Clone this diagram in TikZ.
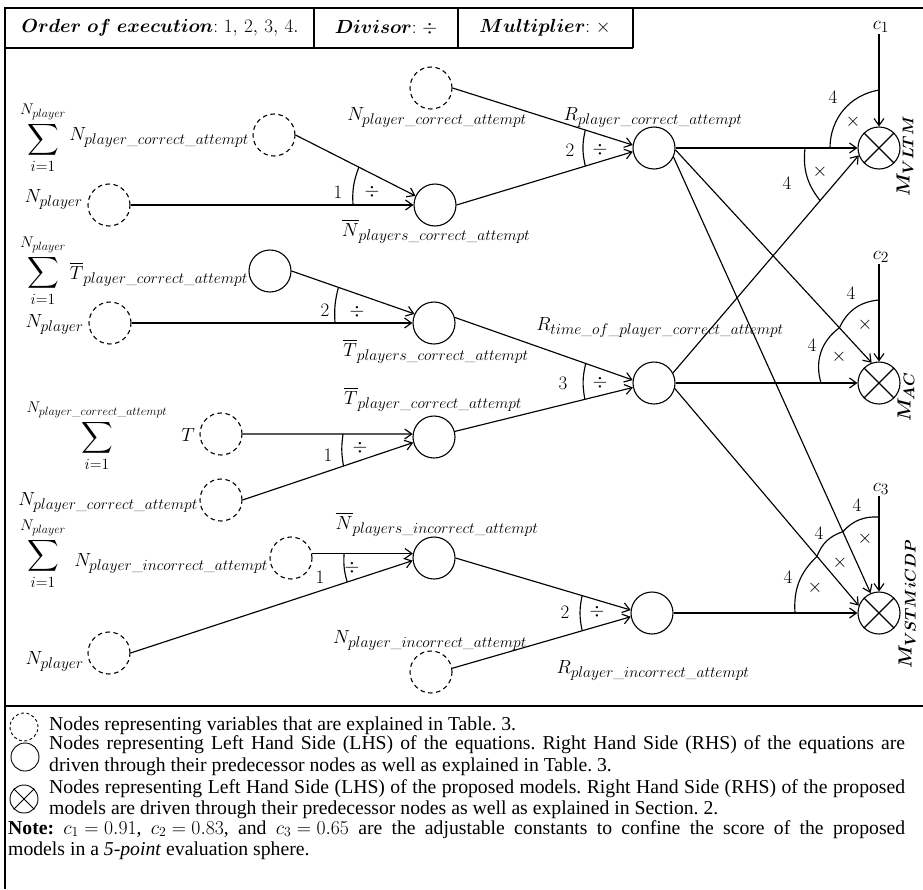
\RequirePackage{fix-cm}
\documentclass[tikz,border=0pt]{standalone}
\usepackage{fontspec}
\usepackage{amsmath,amssymb}
\usetikzlibrary{arrows.meta,intersections,calc}
\newfontfamily\legendfont{Liberation Serif}
\DeclareMathSizes{19}{19}{15.5}{12}
\DeclareMathSizes{22}{22}{15.5}{12}
\frenchspacing
\newcommand\usc{\text{\_}}
\newcommand\Pca{player\usc correct\usc attempt}
\newcommand\Pia{player\usc incorrect\usc attempt}
\newcommand\dsize{\fontsize{19}{22}\selectfont}
\newcommand\ssize{\fontsize{22}{24}\selectfont}
\newcommand\lsize{\fontsize{19.7}{22}\selectfont}
\newcommand\myarc[6]{%
  \path[name path=tmpa] (#1) circle[radius=#3];
  \path[name path=tmpb] (#1) circle[radius=#5];
  \path[name intersections={of=tmpa and #2, by={ia}}];
  \path[name intersections={of=tmpb and #4, by={ib}}];
  \draw[arcline] (ia) to[bend right=#6] (ib);
}
\begin{document}
\begin{tikzpicture}[x=1pt,y=1pt,
  var/.style={circle,draw,dash pattern=on 4.5pt off 3.5pt,minimum size=42pt,inner sep=0pt,line width=1.1pt},
  eqn/.style={circle,draw,minimum size=42pt,inner sep=0pt,line width=1.1pt},
  model/.style={circle,draw,minimum size=42pt,inner sep=0pt,line width=1.1pt},
  conn/.style={line width=1.15pt,-{Straight Barb[length=7pt,width=10pt]}},
  arcline/.style={line width=1.15pt},
  lbl/.style={font=\dsize,inner sep=1pt},
  sumlbl/.style={font=\ssize,inner sep=1pt},
  frameline/.style={line width=1.6pt},
  legtxt/.style={font=\legendfont\lsize,inner sep=0pt,anchor=base west},
]
\fill[white] (0,0) rectangle (923,-889);
\useasboundingbox (0,0) rectangle (923,-889);

% frame and header
\draw[frameline] (923,-8) -- (5,-8) -- (5,-889);
\draw[frameline] (5,-48) -- (633,-48);
\draw[frameline] (314,-8) -- (314,-48);
\draw[frameline] (458,-8) -- (458,-48);
\draw[frameline] (633,-8) -- (633,-48);
\draw[frameline] (5,-706) -- (923,-706);
\node[lbl] (h1) at (160,-28) {$\boldsymbol{Order\ of\ execution}{:}\ 1,\,2,\,3,\,4.$};
\node[lbl] (h2) at (386,-28) {$\boldsymbol{Divisor}{:}\ \div$};
\node[lbl] (h3) at (545,-28) {$\boldsymbol{Multiplier}{:}\ \times$};

% circles
\node[var] (D1) at (274,-135) {};
\node[var] (D2) at (109,-205) {};
\node[var] (D3) at (431,-88) {};
\node[eqn] (A1) at (435,-205) {};
\node[eqn] (B1) at (654,-148) {};
\node[model] (M1) at (879,-148) {};
\node[eqn] (C1) at (270,-271) {};
\node[var] (D4) at (110,-323) {};
\node[eqn] (A2) at (434,-323) {};
\node[var] (D5) at (221,-434) {};
\node[eqn] (A3) at (434,-437) {};
\node[var] (D6) at (221,-500) {};
\node[eqn] (B2) at (654,-383) {};
\node[model] (M2) at (879,-383) {};
\node[var] (D7) at (291,-558) {};
\node[eqn] (A4) at (434,-558) {};
\node[var] (D8) at (109,-653) {};
\node[var] (D9) at (431,-672) {};
\node[eqn] (B3) at (652,-613) {};
\node[model] (M3) at (879,-613) {};
\foreach \m in {M1,M2,M3} \draw[line width=1.1pt] (\m.45) -- (\m.225) (\m.135) -- (\m.315);

% constants
\node[lbl] (c1) at (881,-27) {$c_1$};
\node[lbl] (c2) at (881,-257) {$c_2$};
\node[lbl] (c3) at (881,-489) {$c_3$};

% connectors
\draw[conn,name path=LD1A1] (D1.east) -- (A1.155);
\draw[conn,name path=LD2A1] (D2.east) -- (A1.west);
\draw[conn,name path=LD3B1] (D3.east) -- (B1.172);
\draw[conn,name path=LA1B1] (A1.east) -- (B1.190);
\draw[conn,name path=LC1A2] (C1.east) -- (A2.155);
\draw[conn,name path=LD4A2] (D4.east) -- (A2.west);
\draw[conn,name path=LD5A3] (D5.east) -- (A3.172);
\draw[conn,name path=LD6A3] (D6.east) -- (A3.195);
\draw[conn,name path=LA2B2] (A2.15) -- (B2.172);
\draw[conn,name path=LA3B2] (A3.15) -- (B2.192);
\draw[conn,name path=LD7A4] (D7.12) -- (A4.168);
\draw[conn,name path=LD8A4] (D8.east) -- (A4.187);
\draw[conn,name path=LA4B3] (A4.east) -- (B3.172);
\draw[conn,name path=LD9B3] (D9.10) -- (B3.190);
\draw[conn,name path=LB1M1] (B1.east) -- (M1.west);
\draw[conn,name path=LB1M2] (B1.-5) -- (M2.110);
\draw[conn,name path=LB1M3] (B1.-25) -- (M3.113);
\draw[conn,name path=LB2M1] (B2.28) -- (M1.200);
\draw[conn,name path=LB2M2] (B2.east) -- (M2.west);
\draw[conn,name path=LB2M3] (B2.-15) -- (M3.160);
\draw[conn,name path=LB3M3] (B3.east) -- (M3.west);
\draw[conn,name path=Lc1] (c1.south -| M1.north) -- (M1.north);
\draw[conn,name path=Lc2] (c2.south -| M2.north) -- (M2.north);
\draw[conn,name path=Lc3] (c3.south -| M3.north) -- (M3.north);

% operation arcs
\myarc{A1}{LD1A1}{85}{LD2A1}{82}{12}
\myarc{B1}{LD3B1}{71}{LA1B1}{71}{13}
\myarc{A2}{LC1A2}{102}{LD4A2}{99}{9}
\myarc{A3}{LD5A3}{91}{LD6A3}{95}{9}
\myarc{B2}{LA2B2}{71}{LA3B2}{71}{12}
\myarc{A4}{LD7A4}{90}{LD8A4}{90}{10}
\myarc{B3}{LA4B3}{72}{LD9B3}{72}{12}
\myarc{M1}{Lc1}{58}{LB1M1}{49}{40}
\myarc{M1}{LB1M1}{74}{LB2M1}{79}{22}
\myarc{M2}{Lc2}{83}{LB1M2}{68}{30}
\myarc{M2}{LB1M2}{68}{LB2M2}{58}{35}
\myarc{M3}{Lc3}{96}{LB1M3}{89}{25}
\myarc{M3}{LB1M3}{89}{LB2M3}{84}{25}
\myarc{M3}{LB2M3}{84}{LB3M3}{84}{25}

% arc labels
\node[lbl] (k1) at (338,-192) {1};
\node[lbl] (k1d) at (372,-192) {$\div$};
\node[lbl] (k2) at (570,-150) {2};
\node[lbl] (k2d) at (600,-150) {$\div$};
\node[lbl] (k3) at (325,-310) {2};
\node[lbl] (k3d) at (357,-312) {$\div$};
\node[lbl] (k4) at (328,-455) {1};
\node[lbl] (k4d) at (360,-448) {$\div$};
\node[lbl] (k5) at (563,-383) {3};
\node[lbl] (k5d) at (600,-383) {$\div$};
\node[lbl] (k6) at (320,-577) {1};
\node[lbl] (k6d) at (352,-568) {$\div$};
\node[lbl] (k7) at (565,-612) {2};
\node[lbl] (k7d) at (597,-612) {$\div$};
\node[lbl] (m1a) at (833,-97) {4};
\node[lbl] (m1ax) at (853,-122) {$\times$};
\node[lbl] (m1b) at (787,-183) {4};
\node[lbl] (m1bx) at (820,-172) {$\times$};
\node[lbl] (m2a) at (851,-293) {4};
\node[lbl] (m2ax) at (865,-325) {$\times$};
\node[lbl] (m2b) at (812,-345) {4};
\node[lbl] (m2bx) at (839,-357) {$\times$};
\node[lbl] (m3a) at (857,-505) {4};
\node[lbl] (m3ax) at (865,-539) {$\times$};
\node[lbl] (m3b) at (819,-533) {4};
\node[lbl] (m3bx) at (840,-563) {$\times$};
\node[lbl] (m3c) at (788,-577) {4};
\node[lbl] (m3cx) at (815,-588) {$\times$};

% variable labels
\node[sumlbl] (s1) at (43,-138) {$\displaystyle\sum_{i=1}^{N_{player}}$};
\node[lbl,anchor=base east] (t1) at (250,-140) {$N_{\Pca}$};
\node[lbl,anchor=base east] (t2) at (84,-202) {$N_{player}$};
\node[lbl,anchor=base] (t3) at (437,-120) {$N_{\Pca}$};
\node[lbl,anchor=base] (t4) at (436,-236) {$\overline{N}_{players\usc correct\usc attempt}$};
\node[lbl,anchor=base] (t5) at (653,-120) {$R_{\Pca}$};
\node[sumlbl] (s2) at (43,-271) {$\displaystyle\sum_{i=1}^{N_{player}}$};
\node[lbl,anchor=base east] (t6) at (249,-279) {$\overline{T}_{\Pca}$};
\node[lbl,anchor=base east] (t7) at (85,-327) {$N_{player}$};
\node[lbl,anchor=base] (t8) at (436,-356) {$\overline{T}_{players\usc correct\usc attempt}$};
\node[sumlbl] (s3) at (97,-436) {$\displaystyle\sum_{i=1}^{N_{\Pca}}$};
\node[lbl,anchor=base east] (t9) at (196,-441) {$T$};
\node[lbl,anchor=base east] (t10) at (199,-505) {$N_{\Pca}$};
\node[lbl,anchor=base] (t11) at (433,-404) {$\overline{T}_{\Pca}$};
\node[lbl,anchor=base] (t12) at (660,-330) {$R_{time\usc of\usc\Pca}$};
\node[sumlbl] (s4) at (43,-554) {$\displaystyle\sum_{i=1}^{N_{player}}$};
\node[lbl,anchor=base east] (t13) at (269,-566) {$N_{\Pia}$};
\node[lbl,anchor=base] (t14) at (437,-529) {$\overline{N}_{players\usc incorrect\usc attempt}$};
\node[lbl,anchor=base east] (t15) at (85,-664) {$N_{player}$};
\node[lbl,anchor=base] (t16) at (430,-643) {$N_{\Pia}$};
\node[lbl,anchor=base] (t17) at (653,-673) {$R_{\Pia}$};
\node[lbl,rotate=90] (mv1) at (905,-156) {$\boldsymbol{M_{VLTM}}$};
\node[lbl,rotate=90] (mv2) at (906,-397) {$\boldsymbol{M_{AC}}$};
\node[lbl,rotate=90] (mv3) at (907,-604) {$\boldsymbol{M_{VSTMiCDP}}$};

% legend
\node[var,minimum size=28pt,line width=0.9pt,dash pattern=on 3pt off 2.5pt] (lg1) at (24,-727) {};
\node[eqn,minimum size=28pt,line width=0.9pt] (lg2) at (25,-757) {};
\node[model,minimum size=28pt,line width=0.9pt] (lg3) at (24,-799) {};
\draw[line width=0.9pt] (lg3.45) -- (lg3.225) (lg3.135) -- (lg3.315);
\node[legtxt] (lt1) at (49,-730) {Nodes representing variables that are explained in Table. 3.};
\node[legtxt] (lt2) at (49,-749) {\makebox[856pt][s]{Nodes representing Left Hand Side (LHS) of the equations. Right Hand Side (RHS) of the equations are}};
\node[legtxt] (lt3) at (49,-771) {driven through their predecessor nodes as well as explained in Table. 3.};
\node[legtxt] (lt4) at (49,-793) {\makebox[856pt][s]{Nodes representing Left Hand Side (LHS) of the proposed models. Right Hand Side (RHS) of the proposed}};
\node[legtxt] (lt5) at (49,-814) {models are driven through their predecessor nodes as well as explained in Section. 2.};
\node[legtxt] (lt6) at (8,-834) {\thickmuskip=5mu\medmuskip=4mu\makebox[897pt][s]{\textbf{Note:} $c_1 = 0.91$, $c_2 = 0.83$, and $c_3 = 0.65$ are the adjustable constants to confine the score of the proposed}};
\node[legtxt] (lt7) at (8,-855) {models in a \textit{5-point} evaluation sphere.};
\end{tikzpicture}
\end{document}
